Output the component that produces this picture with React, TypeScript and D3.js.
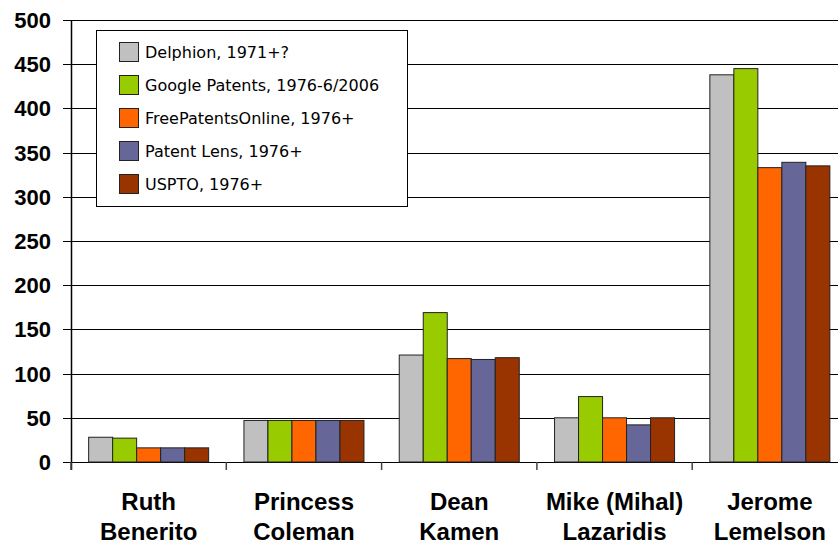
import * as d3 from 'd3';

const categories = [
  ['Ruth', 'Benerito'],
  ['Princess', 'Coleman'],
  ['Dean', 'Kamen'],
  ['Mike (Mihal)', 'Lazaridis'],
  ['Jerome', 'Lemelson'],
];
const seriesNames = [
  'Delphion, 1971+?',
  'Google Patents, 1976-6/2006',
  'FreePatentsOnline, 1976+',
  'Patent Lens, 1976+',
  'USPTO, 1976+',
];
const seriesColors = ['#C0C0C0', '#99CC00', '#FF6600', '#666699', '#993300'];
const delphion = [28, 47, 121, 50, 438];
const google = [27, 47, 169, 74, 445];
const freePatents = [16, 47, 117, 50, 333];
const patentLens = [16, 47, 116, 42, 339];
const uspto = [16, 47, 118, 50, 335];
const yTicks = [0, 50, 100, 150, 200, 250, 300, 350, 400, 450, 500];

const series = [delphion, google, freePatents, patentLens, uspto];

const W = 838;
const H = 545;

export default function App() {
  const keys = categories.map((c) => c.join(' '));
  const x = d3
    .scaleBand<string>()
    .domain(keys)
    .range([71, 71 + 5 * 155.3]);
  const xInner = d3
    .scaleBand<number>()
    .domain(d3.range(series.length))
    .range([0, x.bandwidth()])
    .paddingInner(0)
    .paddingOuter(0.735);
  const y = d3.scaleLinear().domain([0, 500]).range([462, 20]);

  const boundaries = d3.range(categories.length + 1).map((i) => 71 + i * x.step());

  return (
    <svg
      width={W}
      height={H}
      style={{ position: 'absolute', left: 0, top: 0, background: '#fff' }}
    >
      {/* grid */}
      {yTicks.map((t) => (
        <line
          key={t}
          x1={63}
          x2={W}
          y1={Math.round(y(t)) + 0.5}
          y2={Math.round(y(t)) + 0.5}
          stroke="#000"
          strokeWidth={1}
        />
      ))}
      {/* bars */}
      {keys.map((k, ci) =>
        series.map((s, si) => {
          const x0 = (x(k) ?? 0) + (xInner(si) ?? 0);
          return (
            <rect
              key={k + si}
              x={x0}
              y={y(s[ci])}
              width={xInner.bandwidth()}
              height={y(0) - y(s[ci])}
              fill={seriesColors[si]}
              stroke="#222"
              strokeWidth={1}
            />
          );
        })
      )}
      {/* axes */}
      <line x1={71.5} x2={71.5} y1={y(500)} y2={470} stroke="#000" strokeWidth={1.5} />
      {boundaries.map((b, i) => (
        <line key={i} x1={b} x2={b} y1={y(0)} y2={470} stroke="#444" strokeWidth={1.5} />
      ))}
      {yTicks.map((t) => (
        <text
          key={t}
          x={51}
          y={y(t)}
          dy="0.36em"
          textAnchor="end"
          fontFamily="'Liberation Sans', Arial, sans-serif"
          fontWeight="bold"
          fontSize={22}
        >
          {t}
        </text>
      ))}
      {categories.map((c, i) => (
        <text
          key={i}
          x={(x(keys[i]) ?? 0) + x.bandwidth() / 2}
          textAnchor="middle"
          fontFamily="'Liberation Sans', Arial, sans-serif"
          fontWeight="bold"
          fontSize={24}
        >
          <tspan x={(x(keys[i]) ?? 0) + x.bandwidth() / 2} y={510}>
            {c[0]}
          </tspan>
          <tspan x={(x(keys[i]) ?? 0) + x.bandwidth() / 2} y={540}>
            {c[1]}
          </tspan>
        </text>
      ))}
      {/* legend */}
      <g>
        <rect x={96.5} y={30.5} width={311} height={176} fill="#fff" stroke="#000" strokeWidth={1} />
        {seriesNames.map((n, i) => {
          const cy = 52 + i * 33;
          return (
            <g key={n}>
              <rect
                x={119.5}
                y={cy - 9.5}
                width={19}
                height={19}
                fill={seriesColors[i]}
                stroke="#222"
                strokeWidth={1}
              />
              <text
                x={145}
                y={cy}
                dy="0.35em"
                fontFamily="'DejaVu Sans', Verdana, sans-serif"
                fontSize={16}
              >
                {n}
              </text>
            </g>
          );
        })}
      </g>
    </svg>
  );
}
